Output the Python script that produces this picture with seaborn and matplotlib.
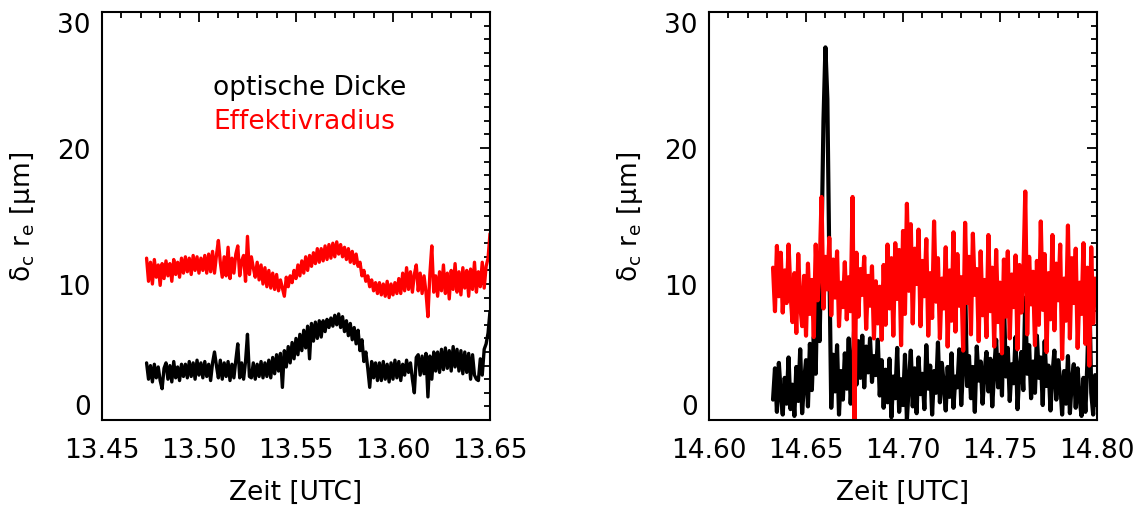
import numpy as np
import pandas as pd
import matplotlib
matplotlib.use('Agg')
import matplotlib.pyplot as plt
import seaborn as sns
from matplotlib.ticker import MultipleLocator, FormatStrFormatter

# Sampling of the two flight legs (hours UTC, 1 sample every 0.001 h)
t0_left = 13.473
t0_right = 14.633
dt = 0.001

# Left panel: effective radius (red) and optical thickness (black)
reff_left = [
    11.9, 10.2, 11.6, 10.0, 11.8, 10.5, 11.4, 9.9, 11.5, 10.4,
    11.7, 10.6, 11.5, 10.2, 11.8, 10.7, 11.6, 10.5, 11.9, 10.8,
    12.0, 10.9, 11.9, 10.7, 12.1, 11.0, 12.0, 10.8, 11.9, 11.0,
    12.1, 10.8, 12.2, 10.9, 12.4, 10.8, 12.1, 13.2, 11.6, 10.5,
    12.0, 10.6, 12.7, 10.4, 11.9, 10.8, 12.2, 12.8, 10.6, 11.7,
    12.1, 10.2, 13.5, 10.7, 12.0, 11.2, 10.5, 11.6, 10.3, 11.4,
    10.0, 11.2, 9.8, 11.0, 9.7, 10.8, 9.6, 10.7, 9.5, 10.3,
    9.7, 9.1, 10.5, 9.8, 10.6, 10.1, 11.0, 10.4, 11.4, 10.6,
    11.7, 10.8, 12.0, 11.0, 12.1, 11.3, 12.3, 11.5, 12.6, 11.6,
    12.6, 11.7, 12.8, 11.8, 12.9, 11.9, 13.0, 12.0, 13.1, 12.2,
    12.9, 12.0, 12.7, 11.8, 12.6, 11.6, 12.4, 11.5, 12.2, 11.3,
    11.6, 10.6, 11.0, 10.2, 10.6, 9.8, 10.3, 9.5, 10.1, 9.3,
    10.1, 9.2, 10.0, 9.1, 10.2, 9.0, 10.0, 9.2, 10.1, 9.3,
    10.4, 9.3, 10.8, 9.5, 11.2, 9.6, 10.9, 9.4, 10.7, 11.4,
    9.5, 10.8, 9.3, 10.6, 9.4, 7.6, 10.7, 12.8, 9.4, 10.6,
    9.1, 10.9, 9.5, 11.4, 9.3, 10.8, 8.9, 11.0, 9.6, 11.5,
    9.4, 10.9, 9.2, 11.2, 9.7, 11.0, 9.1, 11.1, 9.6, 11.6,
    9.4, 10.9, 9.8, 11.6, 9.7, 11.3, 11.9, 13.7,
]
tau_left = [
    4.2, 3.0, 4.0, 2.8, 4.1, 3.1, 3.9, 2.9, 2.3, 3.8,
    4.2, 3.0, 4.0, 2.8, 4.3, 3.1, 3.9, 2.9, 4.1, 3.2,
    4.1, 3.1, 4.3, 3.2, 4.2, 3.0, 4.4, 3.3, 4.2, 3.1,
    4.3, 3.2, 4.1, 2.9, 4.2, 5.0, 4.0, 3.1, 4.4, 3.0,
    4.2, 3.2, 4.3, 2.9, 4.1, 3.1, 4.4, 5.6, 3.1, 4.2,
    3.0, 4.3, 6.3, 3.2, 3.1, 4.2, 3.0, 4.1, 3.2, 4.3,
    3.1, 4.2, 3.2, 4.4, 3.1, 4.6, 3.4, 4.8, 3.6, 4.9,
    2.4, 5.1, 3.9, 5.4, 4.2, 5.7, 4.5, 6.0, 4.8, 6.3,
    5.1, 6.6, 5.3, 6.9, 4.5, 7.1, 5.8, 7.2, 6.0, 7.3,
    6.1, 7.3, 6.5, 7.4, 6.8, 7.5, 6.9, 7.7, 7.0, 7.8,
    6.8, 7.6, 6.5, 7.3, 6.2, 7.1, 5.9, 6.8, 5.6, 6.6,
    5.1, 5.9, 4.3, 5.0, 3.8, 2.4, 4.3, 3.1, 4.2, 2.9,
    4.2, 2.9, 4.3, 3.0, 4.1, 2.8, 4.2, 3.0, 4.4, 3.1,
    4.3, 2.9, 4.1, 3.3, 4.4, 3.5, 4.2, 3.0, 2.0, 4.6,
    4.8, 3.3, 4.7, 3.4, 4.9, 1.7, 4.7, 3.0, 5.0, 3.6,
    5.0, 3.5, 5.2, 3.7, 5.3, 3.8, 5.1, 3.6, 5.4, 3.9,
    5.2, 3.6, 5.1, 3.4, 5.0, 3.5, 4.9, 3.0, 4.8, 3.3,
    3.0, 2.9, 4.5, 3.3, 5.2, 5.6, 6.4, 8.0,
]

# Right panel
reff_right = [
    11.2, 8.0, 12.8, 9.1, 12.3, 7.9, 11.0, 8.6, 12.9, 9.4,
    7.2, 10.8, 6.4, 12.2, 8.5, 6.9, 10.6, 6.2, 11.5, 7.8,
    10.3, 6.1, 12.9, 8.8, 10.9, 16.4, 8.2, 12.0, 9.6, 13.4,
    7.7, 11.8, 9.0, 12.4, 6.9, 10.1, 8.3, 11.6, 7.4, 10.5,
    8.0, 16.4, 0.0, 12.3, 7.6, 11.1, 9.2, 12.0, 6.7, 10.6,
    8.4, 11.3, 6.0, 10.2, 7.1, 9.8, 5.9, 11.4, 7.0, 12.9,
    8.2, 11.9, 6.2, 13.0, 8.9, 12.5, 5.5, 13.9, 7.8, 15.9,
    9.5, 14.4, 7.1, 12.6, 10.0, 14.0, 6.9, 11.7, 9.1, 13.3,
    6.2, 10.8, 7.5, 14.6, 8.7, 11.9, 6.0, 10.4, 8.2, 12.7,
    5.4, 11.0, 7.3, 13.8, 6.5, 12.2, 8.4, 10.5, 5.1, 14.5,
    8.6, 12.0, 6.3, 13.7, 9.2, 11.1, 5.8, 12.4, 7.7, 10.3,
    6.1, 13.6, 8.0, 11.2, 5.4, 12.5, 7.2, 10.1, 4.9, 11.8,
    7.6, 12.4, 6.0, 10.7, 8.3, 12.1, 5.2, 11.4, 7.9, 10.6,
    16.8, 6.3, 12.0, 8.5, 10.9, 5.5, 11.7, 7.0, 14.6, 8.1,
    12.2, 5.0, 10.8, 7.4, 13.6, 6.6, 11.5, 8.8, 12.9, 4.5,
    10.4, 7.3, 14.3, 6.0, 11.9, 8.6, 12.6, 5.3, 10.1, 7.8,
    13.0, 5.6, 11.2, 4.0, 12.7, 7.1, 10.4, 8.9,
]
tau_right = [
    1.5, 3.8, 0.6, 4.2, 1.9, 0.4, 3.1, 1.2, 4.6, 0.8,
    2.6, 0.3, 3.9, 1.4, 5.2, 0.5, 2.8, 4.4, 1.0, 5.6,
    2.2, 6.1, 3.4, 11.2, 5.8, 13.0, 22.0, 27.4, 23.6, 11.8,
    0.9, 4.8, 2.1, 5.5, 0.4, 3.6, 1.5, 4.9, 2.3, 6.0,
    1.2, 3.9, 7.4, 2.6, 5.8, 3.1, 6.2, 2.4, 5.4, 3.5,
    6.0, 2.8, 4.7, 3.3, 5.9, 1.8, 4.4, 0.9, 3.7, 1.3,
    4.5, 0.2, 3.2, 1.6, 5.3, 0.6, 3.0, 1.1, 4.8, 0.0,
    2.7, 5.1, 1.0, 3.8, 0.5, 4.6, 1.9, 3.4, 0.8, 5.5,
    2.3, 4.0, 0.4, 3.6, 2.0, 5.7, 1.3, 4.2, 2.6, 0.7,
    3.9, 1.7, 4.9, 0.9, 3.2, 2.4, 5.2, 1.1, 4.0, 10.1,
    2.5, 4.7, 1.6, 3.9, 0.6, 5.4, 2.9, 4.3, 1.2, 3.5,
    5.0, 2.1, 4.5, 1.0, 3.7, 5.9, 2.4, 4.8, 1.8, 8.9,
    3.2, 5.3, 1.4, 4.1, 2.7, 6.1, 0.8, 3.6, 5.0, 2.2,
    9.0, 3.4, 5.5, 1.6, 4.3, 2.0, 6.2, 3.1, 4.6, 1.1,
    5.8, 2.5, 4.0, 0.7, 3.3, 5.1, 1.5, 4.4, 2.8, 0.4,
    3.6, 1.2, 4.7, 0.5, 2.9, 4.1, 0.9, 3.8, 1.6, 0.3,
    3.1, 0.6, 4.2, 9.8, 2.0, 0.4, 3.3, 1.1,
]

xlims = [(13.45, 13.65), (14.60, 14.80)]
ylabel = 'δ$_\\mathrm{c}$ r$_\\mathrm{e}$ [μm]'

sns.set_theme(style='white')
plt.rcParams['font.family'] = ['DejaVu Sans']
plt.rcParams['mathtext.fontset'] = 'dejavusans'
FS = 19

fig = plt.figure(figsize=(11.43, 5.10), dpi=100)
ax1 = fig.add_axes([0.0892, 0.1745, 0.3395, 0.80])
ax2 = fig.add_axes([0.6203, 0.1745, 0.3395, 0.80])

panels = [
    (ax1, t0_left, tau_left, reff_left, 2.4),
    (ax2, t0_right, tau_right, reff_right, 3.0),
]

for (ax, t0, tau, reff, lw), xl in zip(panels, xlims):
    t = t0 + dt * np.arange(len(reff))
    df = pd.DataFrame({'t': t, 'tau': tau, 'reff': reff})
    sns.lineplot(data=df, x='t', y='tau', color='black', lw=lw,
                 estimator=None, ax=ax)
    sns.lineplot(data=df, x='t', y='reff', color='#ff0000', lw=lw,
                 estimator=None, ax=ax)

    ax.set_xlim(*xl)
    ax.set_ylim(0, 30)
    ax.set_xticks(np.round(np.linspace(xl[0], xl[1], 5), 2))
    ax.xaxis.set_major_formatter(FormatStrFormatter('%.2f'))
    ax.xaxis.set_minor_locator(MultipleLocator(0.01))
    ax.set_yticks([0, 10, 20, 30])
    ax.yaxis.set_minor_locator(MultipleLocator(1))
    ax.tick_params(which='both', direction='in', top=True, right=True,
                   color='black', width=1.3, labelsize=FS, labelcolor='black')
    ax.tick_params(which='major', length=7.5)
    ax.tick_params(which='minor', length=4.5)
    ax.tick_params(axis='x', which='major', pad=12)
    ax.tick_params(axis='y', which='major', pad=8)
    for sp in ax.spines.values():
        sp.set_visible(True)
        sp.set_color('black')
        sp.set_linewidth(1.5)

    ax.set_xlabel('Zeit [UTC]', fontsize=FS, color='black', labelpad=12)
    ax.set_ylabel(ylabel, fontsize=FS, color='black', labelpad=14)

    labels = ax.get_yticklabels()
    labels[0].set_va('bottom')
    labels[-1].set_va('top')

ax1.text(0.286, 0.815, 'optische Dicke', transform=ax1.transAxes,
         fontsize=FS, color='black', va='center', ha='left')
ax1.text(0.286, 0.732, 'Effektivradius', transform=ax1.transAxes,
         fontsize=FS, color='#ff0000', va='center', ha='left')

fig.savefig('out.png', dpi=100, facecolor='white')
